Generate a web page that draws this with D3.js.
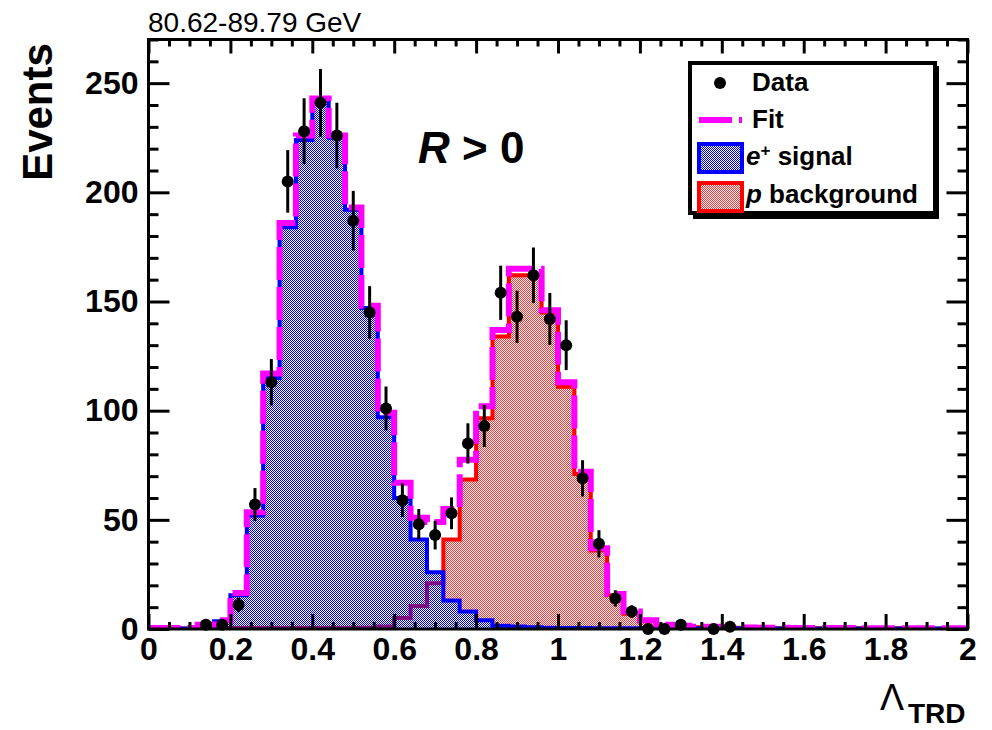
<!DOCTYPE html>
<html>
<head>
<meta charset="utf-8">
<script src="https://cdn.jsdelivr.net/npm/d3@7"></script>
<style>
  body { margin: 0; background: #fff; }
  svg { display: block; }
  text { font-family: "Liberation Sans", Arial, Helvetica, sans-serif; }
</style>
</head>
<body>
<svg id="chart" width="992" height="730"></svg>
<script>
// Histogram binning: 50 bins of width 0.04 over Lambda_TRD in [0, 2]
const binEdges = d3.range(51).map(i => +(i * 0.04).toFixed(2));

// Observed events per bin (null = empty bin, not drawn)
const dataCounts = [
  null, null, null, 2, 2, 11, 57, 113, 205, 228,
  241, 226, 187, 145, 101, 59, 48, 43, 53, 85,
  93, 154, 143, 162, 142, 130, 69, 39, 14, 8,
  0, 0, 2, null, 0, 1, null, null, null, null,
  null, null, null, null, null, null, null, null, null, null
];

// Total fit (signal + background templates)
const fitValues = [
  0.5, 0.5, 0.5, 2, 4, 16.5, 53.5, 117, 186, 226,
  243, 226, 193, 148, 99, 67, 51, 49, 55, 77.5,
  102, 137, 165, 165, 146, 113, 72, 37, 16, 8,
  4, 2, 1.5, 1, 1, 0.8, 0.7, 0.6, 0.6, 0.5,
  0.5, 0.5, 0.5, 0.4, 0.4, 0.4, 0.4, 0.4, 0.4, 0.4
];

// e+ signal template
const signalValues = [
  0.2, 0.2, 0.2, 1.5, 3.5, 15.5, 52, 115, 184, 224,
  242, 225, 192, 147, 97, 60, 41, 26, 13, 8,
  4, 1.5, 1.2, 0.8, 0.6, 0.5, 0.5, 0.4, 0.4, 0.4,
  0.3, 0.3, 0.3, 0.3, 0.3, 0.3, 0.2, 0.2, 0.2, 0.2,
  0.2, 0.2, 0.2, 0.2, 0.2, 0.2, 0.2, 0.2, 0.2, 0.2
];

// proton background template
const backgroundValues = [
  0.2, 0.2, 0.2, 0.3, 0.3, 0.5, 0.5, 0.5, 0.5, 0.5,
  0.5, 0.5, 0.5, 0.6, 1.2, 5, 10.5, 21, 41, 68.5,
  96.5, 134, 162, 162, 145, 111, 71, 36, 15.5, 7,
  3.5, 1.5, 1.2, 0.8, 0.8, 0.6, 0.5, 0.5, 0.4, 0.4,
  0.4, 0.3, 0.3, 0.3, 0.3, 0.3, 0.2, 0.2, 0.2, 0.2
];

const xMajorTicks = [0, 0.2, 0.4, 0.6, 0.8, 1, 1.2, 1.4, 1.6, 1.8, 2];
const xTickLabels = ["0", "0.2", "0.4", "0.6", "0.8", "1", "1.2", "1.4", "1.6", "1.8", "2"];
const yMajorTicks = [0, 50, 100, 150, 200, 250];
const yTickLabels = ["0", "50", "100", "150", "200", "250"];

const titleText = "80.62-89.79 GeV";
const yTitle = "Events";

// ---- layout ----
const svg = d3.select("#chart");
const frame = { left: 148.5, right: 967.5, top: 39.5, bottom: 629 };

const x = d3.scaleLinear().domain([0, 2]).range([frame.left, frame.right]);
const y = d3.scaleLinear().domain([0, 270]).range([frame.bottom, frame.top]);

const defs = svg.append("defs");
defs.append("clipPath").attr("id", "plotClip")
  .append("rect")
  .attr("x", frame.left).attr("y", frame.top)
  .attr("width", frame.right - frame.left).attr("height", frame.bottom - frame.top);

// checkerboard fill patterns (same phase so blue dots land on red dots)
function checker(id, color) {
  const p = defs.append("pattern").attr("id", id)
    .attr("patternUnits", "userSpaceOnUse")
    .attr("width", 2).attr("height", 2);
  p.append("rect").attr("x", 0).attr("y", 0).attr("width", 1).attr("height", 1)
    .attr("fill", color).attr("shape-rendering", "crispEdges");
  p.append("rect").attr("x", 1).attr("y", 1).attr("width", 1).attr("height", 1)
    .attr("fill", color).attr("shape-rendering", "crispEdges");
}
checker("dotsRed", "#ff3030");
checker("dotsBlue", "#0000ff");

// step outline points for a binned series
function stepPoints(values) {
  const pts = [[binEdges[0], 0]];
  values.forEach((v, i) => {
    pts.push([binEdges[i], v]);
    pts.push([binEdges[i + 1], v]);
  });
  pts.push([binEdges[binEdges.length - 1], 0]);
  return pts;
}

const line = d3.line().x(d => x(d[0])).y(d => y(d[1]));
const area = d3.area().x(d => x(d[0])).y0(y(0)).y1(d => y(d[1]));

const plot = svg.append("g").attr("clip-path", "url(#plotClip)");

// background (p) histogram
plot.append("path").attr("d", area(stepPoints(backgroundValues)))
  .attr("fill", "url(#dotsRed)");
plot.append("path").attr("d", line(stepPoints(backgroundValues)))
  .attr("fill", "none").attr("stroke", "#ff0000").attr("stroke-width", 4)
  .attr("stroke-linejoin", "miter");

// signal (e+) histogram
plot.append("path").attr("d", area(stepPoints(signalValues)))
  .attr("fill", "url(#dotsBlue)");
plot.append("path").attr("d", line(stepPoints(signalValues)))
  .attr("fill", "none").attr("stroke", "#0000ff").attr("stroke-width", 4)
  .attr("stroke-linejoin", "miter");

// total fit
plot.append("path").attr("d", line(stepPoints(fitValues)))
  .attr("fill", "none").attr("stroke", "#ff00ff").attr("stroke-width", 6)
  .attr("stroke-dasharray", "33,7").attr("stroke-linejoin", "miter");

// ---- axes and frame ----
function styleAxis(g) {
  g.select(".domain").remove();
  g.selectAll(".tick line").attr("stroke", "#000").attr("stroke-width", 3);
  g.selectAll("text").attr("font-family", "\"Liberation Sans\", Arial, sans-serif")
    .attr("font-weight", "bold").attr("font-size", 32).attr("fill", "#000");
}

const xMinor = d3.range(0, 2.0001, 0.05).map(v => +v.toFixed(2))
  .filter(v => !xMajorTicks.some(m => Math.abs(m - v) < 1e-6));
const yMinor = d3.range(0, 271, 10).filter(v => v % 50 !== 0);

// bottom
svg.append("g").attr("transform", `translate(0,${frame.bottom})`)
  .call(d3.axisBottom(x).tickValues(xMinor).tickSize(-7).tickFormat(""))
  .call(styleAxis);
svg.append("g").attr("transform", `translate(0,${frame.bottom})`)
  .call(d3.axisBottom(x).tickValues(xMajorTicks).tickSize(-15).tickPadding(8)
    .tickFormat((d, i) => xTickLabels[i]))
  .call(styleAxis);
// top
svg.append("g").attr("transform", `translate(0,${frame.top})`)
  .call(d3.axisTop(x).tickValues(xMinor).tickSize(-7).tickFormat(""))
  .call(styleAxis);
svg.append("g").attr("transform", `translate(0,${frame.top})`)
  .call(d3.axisTop(x).tickValues(xMajorTicks).tickSize(-14).tickFormat(""))
  .call(styleAxis);
// left
svg.append("g").attr("transform", `translate(${frame.left},0)`)
  .call(d3.axisLeft(y).tickValues(yMinor).tickSize(-10).tickFormat(""))
  .call(styleAxis);
svg.append("g").attr("transform", `translate(${frame.left},0)`)
  .call(d3.axisLeft(y).tickValues(yMajorTicks).tickSize(-21).tickPadding(10)
    .tickFormat((d, i) => yTickLabels[i]))
  .call(styleAxis);
// right
svg.append("g").attr("transform", `translate(${frame.right},0)`)
  .call(d3.axisRight(y).tickValues(yMinor).tickSize(-10).tickFormat(""))
  .call(styleAxis);
svg.append("g").attr("transform", `translate(${frame.right},0)`)
  .call(d3.axisRight(y).tickValues(yMajorTicks).tickSize(-21).tickFormat(""))
  .call(styleAxis);

svg.append("rect")
  .attr("x", frame.left).attr("y", frame.top)
  .attr("width", frame.right - frame.left).attr("height", frame.bottom - frame.top)
  .attr("fill", "none").attr("stroke", "#000").attr("stroke-width", 3);

// ---- data points with Poisson error bars ----
const points = dataCounts
  .map((v, i) => ({ xc: (binEdges[i] + binEdges[i + 1]) / 2, v }))
  .filter(d => d.v !== null);

const pts = svg.append("g");
pts.selectAll("line.err").data(points.filter(d => d.v > 0)).join("line")
  .attr("class", "err")
  .attr("x1", d => x(d.xc)).attr("x2", d => x(d.xc))
  .attr("y1", d => y(d.v - Math.sqrt(d.v))).attr("y2", d => y(d.v + Math.sqrt(d.v)))
  .attr("stroke", "#000").attr("stroke-width", 3);
pts.selectAll("circle").data(points).join("circle")
  .attr("cx", d => x(d.xc)).attr("cy", d => y(d.v)).attr("r", 6)
  .attr("fill", "#000");

// ---- texts ----
svg.append("text").attr("x", 148).attr("y", 32)
  .attr("font-size", 28).attr("fill", "#000").text(titleText);

svg.append("text")
  .attr("transform", "translate(52,112) rotate(-90)")
  .attr("text-anchor", "middle").attr("font-size", 42).attr("font-weight", "bold")
  .attr("fill", "#000").text(yTitle);

const rLabel = svg.append("text").attr("x", 418).attr("y", 163)
  .attr("font-size", 44).attr("font-weight", "bold").attr("fill", "#000");
rLabel.append("tspan").attr("font-style", "italic").text("R");
rLabel.append("tspan").text(" > 0");

// x-axis title: Lambda_TRD
svg.append("text").attr("x", 880).attr("y", 710)
  .attr("font-family", "\"Liberation Serif\", \"Times New Roman\", serif")
  .attr("font-size", 36).attr("fill", "#000").text("Λ");
svg.append("text").attr("x", 908).attr("y", 723)
  .attr("font-size", 28).attr("font-weight", "bold").attr("fill", "#000").text("TRD");

// ---- legend ----
const lg = svg.append("g");
lg.append("rect").attr("x", 693).attr("y", 66).attr("width", 246).attr("height", 153)
  .attr("fill", "#000");
lg.append("rect").attr("x", 690).attr("y", 63).attr("width", 245).attr("height", 150)
  .attr("fill", "#fff").attr("stroke", "#000").attr("stroke-width", 4);

const lgFont = 26;
lg.append("circle").attr("cx", 720).attr("cy", 83).attr("r", 6).attr("fill", "#000");
lg.append("text").attr("x", 752).attr("y", 91).attr("font-size", lgFont)
  .attr("font-weight", "bold").attr("fill", "#000").text("Data");

lg.append("line").attr("x1", 699).attr("x2", 742).attr("y1", 120).attr("y2", 120)
  .attr("stroke", "#ff00ff").attr("stroke-width", 6).attr("stroke-dasharray", "33,7");
lg.append("text").attr("x", 752).attr("y", 128).attr("font-size", lgFont)
  .attr("font-weight", "bold").attr("fill", "#000").text("Fit");

lg.append("rect").attr("x", 699).attr("y", 144).attr("width", 43).attr("height", 28)
  .attr("fill", "url(#dotsBlue)").attr("stroke", "#0000ff").attr("stroke-width", 4);
const sigText = lg.append("text").attr("x", 746).attr("y", 165).attr("font-size", lgFont)
  .attr("font-weight", "bold").attr("fill", "#000");
sigText.append("tspan").attr("font-style", "italic").text("e");
sigText.append("tspan").attr("font-size", 17).attr("dy", -9).text("+");
sigText.append("tspan").attr("dy", 9).text(" signal");

lg.append("rect").attr("x", 699).attr("y", 183).attr("width", 43).attr("height", 28)
  .attr("fill", "url(#dotsRed)").attr("stroke", "#ff0000").attr("stroke-width", 4);
const bkgText = lg.append("text").attr("x", 746).attr("y", 203).attr("font-size", lgFont)
  .attr("font-weight", "bold").attr("fill", "#000");
bkgText.append("tspan").attr("font-style", "italic").text("p");
bkgText.append("tspan").text(" background");
</script>
</body>
</html>
